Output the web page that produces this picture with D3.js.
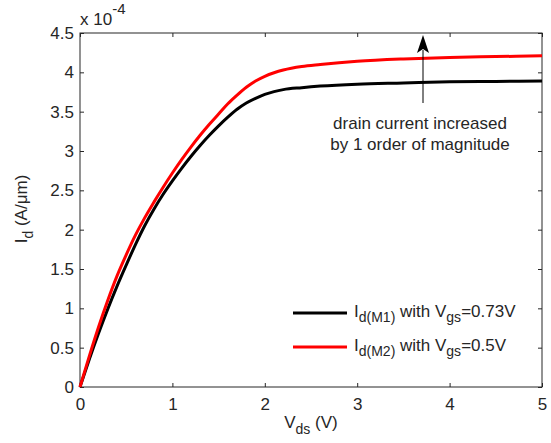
<!DOCTYPE html>
<html>
<head>
<meta charset="utf-8">
<script src="https://cdn.jsdelivr.net/npm/d3@7"></script>
<style>
  html, body { margin: 0; padding: 0; background: #fff; }
  svg { display: block; font-family: "Liberation Sans", Arial, Helvetica, sans-serif; }
</style>
</head>
<body>
<svg id="chart" width="551" height="443"></svg>
<script>
// ---- data (Id in units of 1e-4 A/um, Vds in V) ----
const vds = [0, 0.1, 0.2, 0.3, 0.4, 0.5, 0.6, 0.7, 0.8, 0.9, 1.0, 1.1, 1.2, 1.3, 1.4, 1.5, 1.6, 1.7, 1.8, 1.9, 2.0, 2.1, 2.2, 2.4, 2.6, 3.0, 3.5, 4.0, 4.5, 5.0];
const idM1 = [0, 0.35, 0.68, 0.99, 1.28, 1.55, 1.81, 2.05, 2.26, 2.45, 2.62, 2.78, 2.93, 3.07, 3.20, 3.32, 3.43, 3.53, 3.61, 3.67, 3.72, 3.755, 3.78, 3.805, 3.825, 3.85, 3.865, 3.88, 3.885, 3.89];
const idM2 = [0, 0.39, 0.76, 1.10, 1.41, 1.68, 1.93, 2.15, 2.35, 2.54, 2.72, 2.89, 3.05, 3.20, 3.34, 3.47, 3.60, 3.71, 3.81, 3.89, 3.95, 3.995, 4.03, 4.075, 4.10, 4.14, 4.17, 4.19, 4.20, 4.21];
const xTicks = [0, 1, 2, 3, 4, 5];
const yTicks = [0, 0.5, 1, 1.5, 2, 2.5, 3, 3.5, 4, 4.5];
const seriesNames = ["M1", "M2"];
const seriesVgs = ["0.73V", "0.5V"];
const seriesColors = ["#000000", "#ff0000"];

const svg = d3.select("#chart");
const W = 551, H = 443;
const m = { left: 80, top: 33, right: 9, bottom: 56 };
const pw = W - m.left - m.right, ph = H - m.top - m.bottom;
const axisColor = "#262626";
const FS = "17px", SUB = "14px";

const x = d3.scaleLinear().domain([0, 5]).range([m.left, m.left + pw]);
const y = d3.scaleLinear().domain([0, 4.5]).range([m.top + ph, m.top]);

// frame
svg.append("rect").attr("x", m.left).attr("y", m.top).attr("width", pw).attr("height", ph)
  .attr("fill", "none").attr("stroke", axisColor).attr("stroke-width", 1);

function styleAxis(g) {
  g.select(".domain").remove();
  g.selectAll(".tick line").attr("stroke", axisColor);
  g.selectAll(".tick text").attr("fill", axisColor).style("font-size", FS)
    .style("font-family", "'Liberation Sans', Arial, sans-serif");
}

svg.append("g").attr("transform", `translate(0,${m.top + ph})`)
  .call(d3.axisBottom(x).tickValues(xTicks).tickSize(-4).tickPadding(11).tickFormat(d3.format("d")))
  .call(styleAxis);
svg.append("g").attr("transform", `translate(0,${m.top})`)
  .call(d3.axisTop(x).tickValues(xTicks).tickSize(-4).tickFormat(""))
  .call(styleAxis);
svg.append("g").attr("transform", `translate(${m.left},0)`)
  .call(d3.axisLeft(y).tickValues(yTicks).tickSize(-4).tickPadding(6).tickFormat(d => String(d)))
  .call(styleAxis);
svg.append("g").attr("transform", `translate(${m.left + pw},0)`)
  .call(d3.axisRight(y).tickValues(yTicks).tickSize(-4).tickFormat(""))
  .call(styleAxis);

// curves
const line = d3.line().x(d => x(d[0])).y(d => y(d[1])).curve(d3.curveMonotoneX);
const data = [d3.zip(vds, idM1), d3.zip(vds, idM2)];
data.forEach((pts, i) => {
  svg.append("path").datum(pts).attr("d", line)
    .attr("fill", "none").attr("stroke", seriesColors[i]).attr("stroke-width", 3)
    .attr("stroke-linejoin", "round");
});

// exponent label
const ex = svg.append("text").attr("x", 80).attr("y", 25).attr("fill", axisColor).style("font-size", FS);
ex.append("tspan").text("x 10");
ex.append("tspan").attr("dy", -11).style("font-size", "15px").text("-4");

// axis labels
const xl = svg.append("text").attr("x", 311).attr("y", 428).attr("text-anchor", "middle")
  .attr("fill", axisColor).style("font-size", FS);
xl.append("tspan").text("V");
xl.append("tspan").attr("dy", 6).style("font-size", SUB).text("ds");
xl.append("tspan").attr("dy", -6).text(" (V)");

const yl = svg.append("text").attr("transform", "translate(27,209) rotate(-90)")
  .attr("text-anchor", "middle").attr("fill", axisColor).style("font-size", FS);
yl.append("tspan").text("I");
yl.append("tspan").attr("dy", 6).style("font-size", SUB).text("d");
yl.append("tspan").attr("dy", -6).text(" (A/\u03BCm)");

// legend
const legY = [313, 347];
seriesNames.forEach((name, i) => {
  svg.append("line").attr("x1", 293).attr("x2", 347).attr("y1", legY[i]).attr("y2", legY[i])
    .attr("stroke", seriesColors[i]).attr("stroke-width", 3);
  const t = svg.append("text").attr("x", 354).attr("y", legY[i] + 4)
    .attr("fill", axisColor).style("font-size", FS);
  t.append("tspan").text("I");
  t.append("tspan").attr("dy", 5).style("font-size", SUB).text(`d(${name})`);
  t.append("tspan").attr("dy", -5).text(" with V");
  t.append("tspan").attr("dy", 5).style("font-size", SUB).text("gs");
  t.append("tspan").attr("dy", -5).text(`=${seriesVgs[i]}`);
});

// annotation arrow
const ax = 423;
svg.append("line").attr("x1", ax).attr("x2", ax).attr("y1", 103).attr("y2", 50)
  .attr("stroke", "#000").attr("stroke-width", 1);
svg.append("path").attr("d", `M${ax},35 L${ax - 6},53 L${ax},49 L${ax + 6},53 Z`).attr("fill", "#000");
const an = svg.append("text").attr("text-anchor", "middle").attr("fill", axisColor).style("font-size", FS);
an.append("tspan").attr("x", 420).attr("y", 129).text("drain current increased");
an.append("tspan").attr("x", 420).attr("y", 150).text("by 1 order of magnitude");
</script>
</body>
</html>
